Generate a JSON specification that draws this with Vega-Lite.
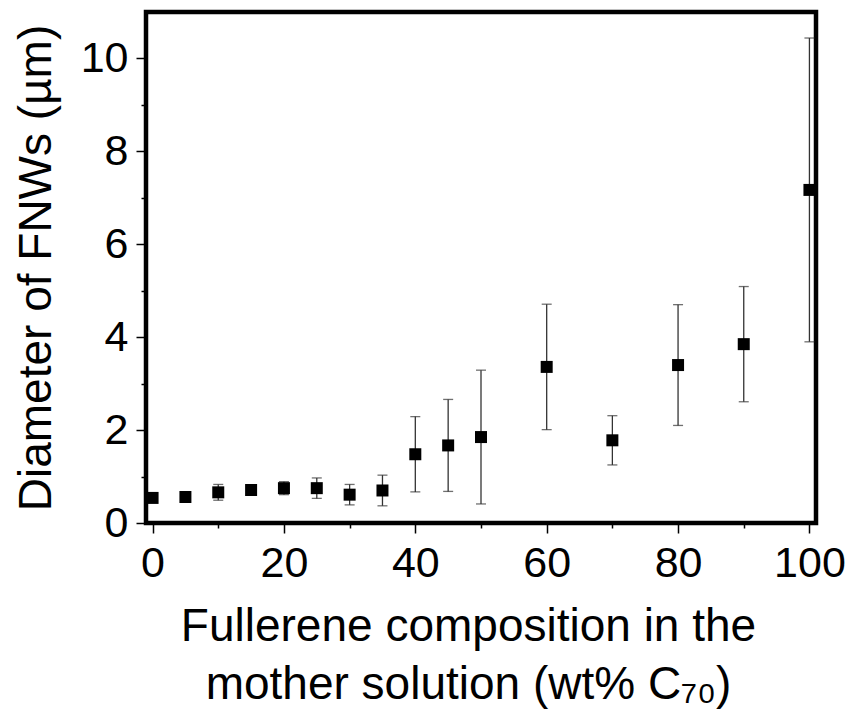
{
  "$schema": "https://vega.github.io/schema/vega-lite/v6.json",
  "autosize": "none",
  "width": 670,
  "height": 511,
  "padding": {"left": 146, "top": 12, "right": 35, "bottom": 190},
  "background": "white",
  "config": {
    "font": "Liberation Sans",
    "view": {"stroke": "black", "strokeWidth": 4.5},
    "axis": {
      "grid": false,
      "domain": false,
      "tickColor": "black",
      "tickWidth": 1.5,
      "labelColor": "black",
      "titleColor": "black",
      "labelFont": "Liberation Sans",
      "titleFont": "Liberation Sans",
      "labelFontSize": 43,
      "titleFontSize": 46,
      "titleFontWeight": "normal"
    }
  },
  "data": {
    "values": [
      {"c70": 0, "d": 0.54, "sd": 0.05},
      {"c70": 5, "d": 0.56, "sd": 0.05},
      {"c70": 10, "d": 0.66, "sd": 0.17},
      {"c70": 15, "d": 0.71, "sd": 0.09},
      {"c70": 20, "d": 0.75, "sd": 0.14},
      {"c70": 25, "d": 0.75, "sd": 0.22},
      {"c70": 30, "d": 0.61, "sd": 0.22},
      {"c70": 35, "d": 0.70, "sd": 0.33},
      {"c70": 40, "d": 1.48, "sd": 0.81},
      {"c70": 45, "d": 1.67, "sd": 0.99},
      {"c70": 50, "d": 1.85, "sd": 1.44},
      {"c70": 60, "d": 3.36, "sd": 1.35},
      {"c70": 70, "d": 1.78, "sd": 0.53},
      {"c70": 80, "d": 3.40, "sd": 1.30},
      {"c70": 90, "d": 3.85, "sd": 1.24},
      {"c70": 100, "d": 7.17, "sd": 3.27}
    ]
  },
  "resolve": {"axis": {"x": "independent", "y": "independent"}},
  "layer": [
    {
      "mark": {
        "type": "errorbar",
        "color": "#333333",
        "thickness": 1.3,
        "size": 10,
        "ticks": true
      },
      "encoding": {
        "x": {
          "field": "c70",
          "type": "quantitative",
          "scale": {"domain": [-1, 101], "nice": false, "zero": false},
          "axis": {
            "orient": "bottom",
            "values": [10, 30, 50, 70, 90],
            "tickSize": 5,
            "labels": false,
            "title": null
          }
        },
        "y": {
          "field": "d",
          "type": "quantitative",
          "scale": {"domain": [0, 11], "nice": false, "zero": false},
          "axis": {
            "orient": "left",
            "values": [1, 3, 5, 7, 9],
            "tickSize": 5,
            "labels": false,
            "title": null
          }
        },
        "yError": {"field": "sd"}
      }
    },
    {
      "mark": {"type": "point", "shape": "square", "filled": true, "size": 144, "color": "black", "opacity": 1},
      "encoding": {
        "x": {
          "field": "c70",
          "type": "quantitative",
          "scale": {"domain": [-1, 101], "nice": false, "zero": false},
          "axis": {
            "orient": "bottom",
            "values": [0, 20, 40, 60, 80, 100],
            "tickSize": 10,
            "labelPadding": 9,
            "title": ["Fullerene composition in the", "mother solution (wt% C₇₀)"],
            "titleX": 322,
            "titleY": 117,
            "titleAlign": "center",
            "titleAnchor": "middle",
            "titleBaseline": "alphabetic",
            "titleLineHeight": 58
          }
        },
        "y": {
          "field": "d",
          "type": "quantitative",
          "scale": {"domain": [0, 11], "nice": false, "zero": false},
          "axis": {
            "orient": "left",
            "values": [0, 2, 4, 6, 8, 10],
            "tickSize": 10,
            "labelPadding": 8,
            "title": "Diameter of FNWs (µm)",
            "titleAngle": -90,
            "titleX": -96,
            "titleY": 255.5,
            "titleAlign": "center",
            "titleAnchor": "middle",
            "titleBaseline": "alphabetic"
          }
        }
      }
    }
  ]
}
